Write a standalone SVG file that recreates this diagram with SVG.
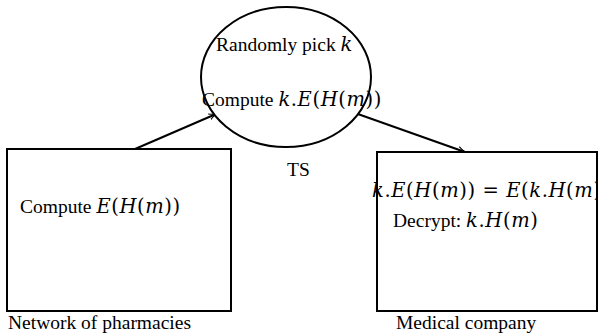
<svg xmlns="http://www.w3.org/2000/svg" width="598" height="335" viewBox="0 0 598 335">
  <defs>
    <marker id="arrow" viewBox="0 0 10 10" refX="9" refY="5" markerWidth="8" markerHeight="8" orient="auto" markerUnits="userSpaceOnUse">
      <path d="M0,1 Q5,4 9,5 Q5,6 0,9" fill="none" stroke="#000" stroke-width="1.3"/>
    </marker>
    <style>
      .shape { fill: #fff; stroke: #000; stroke-width: 2; }
      .edge { fill: none; stroke: #000; stroke-width: 2; marker-end: url(#arrow); }
      .lbl { font-family: "Liberation Serif", "Times New Roman", serif; font-size: 19.5px; fill: #000; }
      .m { font-family: "DejaVu Serif", "Liberation Serif", serif; font-style: italic; letter-spacing: 0.6px; }
      .p { font-family: "DejaVu Serif", "Liberation Serif", serif; letter-spacing: 0.6px; }
    </style>
  </defs>

  <g id="connectors">
    <line class="edge" x1="135" y1="149" x2="216" y2="114"/>
    <line class="edge" x1="355" y1="113" x2="465" y2="152"/>
  </g>

  <g id="ts" class="lbl">
    <ellipse class="shape" cx="286" cy="77" rx="85" ry="70"/>
    <text x="216" y="51">Randomly pick <tspan class="m">k</tspan></text>
    <text x="202" y="106">Compute <tspan class="m">k</tspan><tspan class="p">.</tspan><tspan class="m">E</tspan><tspan class="p">(</tspan><tspan class="m">H</tspan><tspan class="p">(</tspan><tspan class="m">m</tspan><tspan class="p">))</tspan></text>
    <text x="287" y="176">TS</text>
  </g>

  <g id="pharmacies" class="lbl">
    <rect class="shape" x="7" y="149" width="224" height="162"/>
    <text x="20" y="213">Compute <tspan class="m">E</tspan><tspan class="p">(</tspan><tspan class="m">H</tspan><tspan class="p">(</tspan><tspan class="m">m</tspan><tspan class="p">))</tspan></text>
    <text x="8" y="329">Network of pharmacies</text>
  </g>

  <g id="medical" class="lbl">
    <rect class="shape" x="377" y="152" width="220" height="159"/>
    <text x="372" y="197"><tspan class="m">k</tspan><tspan class="p">.</tspan><tspan class="m">E</tspan><tspan class="p">(</tspan><tspan class="m">H</tspan><tspan class="p">(</tspan><tspan class="m">m</tspan><tspan class="p">)) = </tspan><tspan class="m">E</tspan><tspan class="p">(</tspan><tspan class="m">k</tspan><tspan class="p">.</tspan><tspan class="m">H</tspan><tspan class="p">(</tspan><tspan class="m">m</tspan><tspan class="p">))</tspan></text>
    <text x="393" y="227">Decrypt: <tspan class="m">k</tspan><tspan class="p">.</tspan><tspan class="m">H</tspan><tspan class="p">(</tspan><tspan class="m">m</tspan><tspan class="p">)</tspan></text>
    <text x="396" y="329">Medical company</text>
  </g>
</svg>
